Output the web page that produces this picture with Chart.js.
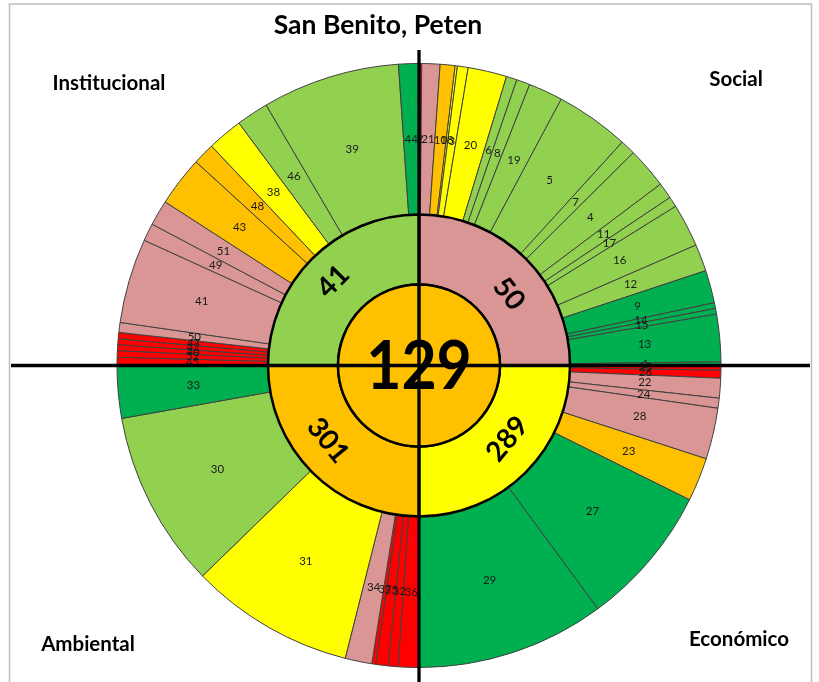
<!DOCTYPE html>
<html><head><meta charset="utf-8">
<script src="https://cdn.jsdelivr.net/npm/chart.js@4"></script>
<style>html,body{margin:0;padding:0;background:#fff;overflow:hidden}</style>
</head><body>
<canvas id="c" width="819" height="682"></canvas>
<script>
// ---------- DATA ----------
const chartTitle = 'San Benito, Peten';
const overallScore = 129;
const overallLevel = 3;
const dimensions = ['Social', 'Económico', 'Ambiental', 'Institucional'];
const dimensionScores = [50, 289, 301, 41];
const dimensionLevels = [2, 4, 3, 5];

// indicator ids, angular share within its dimension, and traffic-light level
const socialIds = ['2','21','10','18','3','20','6','8','19','5','7','4','11','17','16','12','9','14','15','13','1'];
const socialValues = [0.52,3.5,2.86,0.43,2.07,7.47,2.05,2.6,6.6,14.2,2.9,7.9,3.1,2.0,8.3,5.2,6.3,1.1,1.1,9.1,0.7];
const socialLevels = [1,2,3,4,4,4,5,5,5,5,5,5,5,5,5,5,6,6,6,6,6];

const economicIds = ['25','26','22','24','28','23','27','29'];
const economicValues = [0.9,1.52,3.8,1.92,9.86,8.4,27.3,36.3];
const economicLevels = [1,1,2,2,2,3,6,6];

const environmentalIds = ['36','32','35','37','34','31','30','33'];
const environmentalValues = [3.98,1.91,2.33,0.78,5.15,31.65,34.1,10.1];
const environmentalLevels = [1,1,1,1,2,4,5,6];

const institutionalIds = ['45','52','40','42','47','50','41','49','51','43','48','38','46','39','44'];
const institutionalValues = [1.58,1.26,1.1,1.14,1.22,1.9,16.3,3.4,4.9,9.6,4.2,6.8,6.2,26.5,3.9];
const institutionalLevels = [1,1,1,1,1,2,2,2,2,3,3,4,5,5,6];

// ---------- STYLE ----------
const levelColors = {1:'#FF0000', 2:'#DA9694', 3:'#FFC000', 4:'#FFFF00', 5:'#92D050', 6:'#00B050'};
const FONT = 'Lato, "Open Sans", sans-serif';

const groups = [
  [socialIds, socialValues, socialLevels],
  [economicIds, economicValues, economicLevels],
  [environmentalIds, environmentalValues, environmentalLevels],
  [institutionalIds, institutionalValues, institutionalLevels]
];
const outerIds = [], outerData = [], outerColors = [];
groups.forEach(([ids, vals, lv]) => {
  const s = vals.reduce((a, b) => a + b, 0);
  ids.forEach((id, i) => {
    outerIds.push(id);
    outerData.push(vals[i] / s * 100);
    outerColors.push(levelColors[lv[i]]);
  });
});

const labelPlugin = {
  id: 'labels',
  afterDatasetsDraw(chart) {
    const ctx = chart.ctx;
    const outer = chart.getDatasetMeta(0).data;
    const mid = chart.getDatasetMeta(1).data;
    const cen = chart.getDatasetMeta(2).data[0];
    ctx.save();
    ctx.textAlign = 'center';
    ctx.textBaseline = 'middle';
    // outer indicator labels
    ctx.font = '11.5px ' + FONT;
    ctx.fillStyle = '#1a1a1a';
    outer.forEach((arc, i) => {
      const p = arc.getProps(['x','y','startAngle','endAngle','innerRadius','outerRadius'], true);
      const a = (p.startAngle + p.endAngle) / 2;
      const r = (p.innerRadius + p.outerRadius) / 2;
      ctx.fillText(outerIds[i], p.x + Math.cos(a) * r, p.y + Math.sin(a) * r);
    });
    // dimension scores, rotated along the ring
    const tweak = [6.5, -5.3, 5.6, -0.6];
    const rads = [116, 114, 117, 121];
    ctx.font = 'bold 28px ' + FONT;
    ctx.fillStyle = '#000';
    mid.forEach((arc, i) => {
      const p = arc.getProps(['x','y','startAngle','endAngle','innerRadius','outerRadius'], true);
      const a = (p.startAngle + p.endAngle) / 2 + tweak[i] * Math.PI / 180;
      const r = rads[i];
      let rot = a + Math.PI / 2;
      while (rot > Math.PI / 2) rot -= Math.PI;
      while (rot <= -Math.PI / 2) rot += Math.PI;
      ctx.save();
      ctx.translate(p.x + Math.cos(a) * r, p.y + Math.sin(a) * r);
      ctx.rotate(rot);
      ctx.fillText(String(dimensionScores[i]), 0, 1);
      ctx.restore();
    });
    // centre score
    const c = cen.getProps(['x','y'], true);
    ctx.font = 'bold 66px ' + FONT;
    ctx.save();
    ctx.translate(c.x, c.y + 2);
    ctx.scale(0.92, 1);
    ctx.fillText(String(overallScore), 0, 0);
    ctx.restore();
    // cross lines
    ctx.strokeStyle = '#000';
    ctx.lineWidth = 3.5;
    ctx.beginPath();
    ctx.moveTo(11, c.y); ctx.lineTo(810, c.y);
    ctx.stroke();
    ctx.lineWidth = 3.3;
    ctx.beginPath();
    ctx.moveTo(c.x, 50); ctx.lineTo(c.x, 682);
    ctx.stroke();
    // title and dimension names
    ctx.font = 'bold 26.5px ' + FONT;
    ctx.fillText(chartTitle, 378, 25);
    ctx.font = 'bold 20.5px ' + FONT;
    const namePos = [[736, 79], [739, 639], [88, 644], [109, 83]];
    dimensions.forEach((d, i) => ctx.fillText(d, namePos[i][0], namePos[i][1]));
    // frame
    ctx.strokeStyle = '#BFBFBF';
    ctx.lineWidth = 1.5;
    ctx.strokeRect(9.5, 4, 802, 700);
    ctx.restore();
  }
};

new Chart(document.getElementById('c'), {
  type: 'doughnut',
  data: {
    labels: outerIds,
    datasets: [
      { data: outerData, backgroundColor: outerColors, borderColor: '#404040', borderWidth: 1, weight: 151, order: 2 },
      { data: dimensions.map(() => 1), backgroundColor: dimensionLevels.map(l => levelColors[l]), borderColor: '#000', borderWidth: 2.5, weight: 70, order: 1 },
      { data: [overallScore], backgroundColor: [levelColors[overallLevel]], borderColor: '#000', borderWidth: 2.5, weight: 81, order: 0 }
    ]
  },
  options: {
    responsive: false,
    animation: false,
    events: [],
    radius: 302,
    cutout: 0,
    layout: { padding: { left: 117, right: 98, top: 64, bottom: 15 } },
    plugins: { legend: { display: false }, tooltip: { enabled: false }, title: { display: false } }
  },
  plugins: [labelPlugin]
});
</script>
</body></html>
